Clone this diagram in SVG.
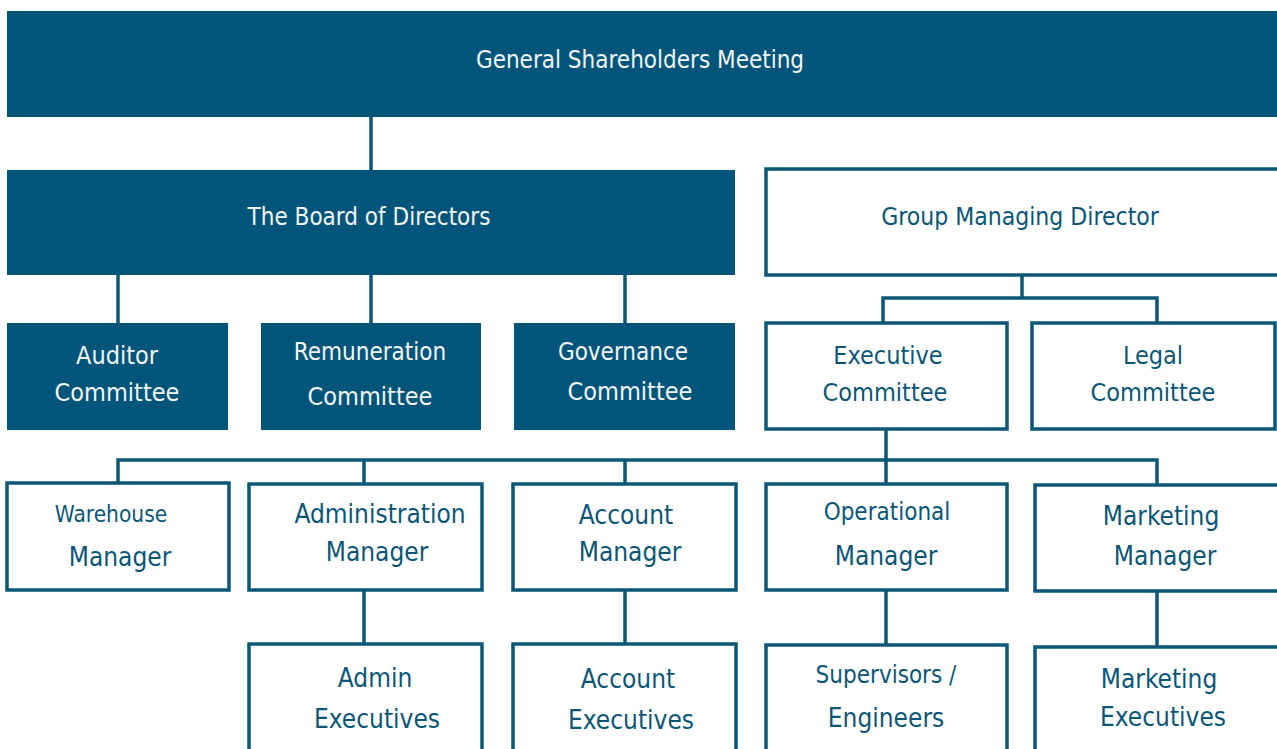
<svg xmlns="http://www.w3.org/2000/svg" width="1277" height="749" viewBox="0 0 1277 749">
<style>
.dk{fill:#02557a;stroke:none}
.wt{fill:#ffffff;stroke:#0a5777;stroke-width:3.5}
.conn line,.conn path{stroke:#0a5777;stroke-width:3.5;fill:none}
text{font-family:"DejaVu Sans Condensed","DejaVu Sans","Liberation Sans",sans-serif;font-stretch:condensed;font-size:24px;text-anchor:middle}
.m{font-size:25px}
.l{font-size:26px}
.lt{fill:#f2f6f8}
.dt{fill:#0b5677}
</style>
<rect width="1277" height="749" fill="#ffffff"/>
<g class="conn" id="connectors">
<line x1="371" y1="117" x2="371" y2="170"/>
<line x1="118" y1="275" x2="118" y2="323"/>
<line x1="371" y1="275" x2="371" y2="323"/>
<line x1="625" y1="275" x2="625" y2="323"/>
<path d="M1022 276 V298 M883 323 V298 H1157 V323"/>
<path d="M886 429 V460 M118 483 V460 H1157 V485 M364 460 V484 M625 460 V484 M886 460 V484"/>
<line x1="364" y1="590" x2="364" y2="644"/>
<line x1="625" y1="590" x2="625" y2="644"/>
<line x1="886" y1="590" x2="886" y2="645"/>
<line x1="1157" y1="591" x2="1157" y2="647"/>
</g>
<g id="gsm"><rect class="dk" x="7" y="11" width="1270" height="106"/><text class="lt" x="640" y="68">General Shareholders Meeting</text></g>
<g id="board"><rect class="dk" x="7" y="170" width="728" height="105"/><text class="lt" x="369" y="225">The Board of Directors</text></g>
<g id="gmd"><rect class="wt" x="766" y="169" width="513" height="106"/><text class="dt" x="1020" y="225" style="font-size:24.5px">Group Managing Director</text></g>
<g id="auditor"><rect class="dk" x="7" y="323" width="221" height="107"/><text class="lt m" x="117" y="364">Auditor</text><text class="lt m" x="117" y="401">Committee</text></g>
<g id="remuneration"><rect class="dk" x="261" y="323" width="220" height="107"/><text class="lt" x="370" y="360">Remuneration</text><text class="lt m" x="370" y="405">Committee</text></g>
<g id="governance"><rect class="dk" x="514" y="323" width="221" height="107"/><text class="lt" x="623" y="360">Governance</text><text class="lt m" x="630" y="400">Committee</text></g>
<g id="executive"><rect class="wt" x="766" y="323" width="241" height="106"/><text class="dt m" x="888" y="364">Executive</text><text class="dt m" x="885" y="401">Committee</text></g>
<g id="legal"><rect class="wt" x="1032" y="323" width="243" height="106"/><text class="dt m" x="1153" y="364">Legal</text><text class="dt m" x="1153" y="401">Committee</text></g>
<g id="warehouse"><rect class="wt" x="7" y="483" width="222" height="107"/><text class="dt" x="111" y="522" style="font-size:22.5px">Warehouse</text><text class="dt l" x="120" y="566">Manager</text></g>
<g id="administration"><rect class="wt" x="249" y="484" width="233" height="106"/><text class="dt l" x="380" y="523">Administration</text><text class="dt l" x="377" y="561">Manager</text></g>
<g id="account"><rect class="wt" x="513" y="484" width="223" height="106"/><text class="dt l" x="626" y="524">Account</text><text class="dt l" x="630" y="561">Manager</text></g>
<g id="operational"><rect class="wt" x="766" y="484" width="241" height="106"/><text class="dt" x="887" y="520">Operational</text><text class="dt l" x="886" y="565">Manager</text></g>
<g id="marketing"><rect class="wt" x="1035" y="485" width="244" height="106"/><text class="dt l" x="1161" y="525">Marketing</text><text class="dt l" x="1165" y="565">Manager</text></g>
<g id="admin-exec"><rect class="wt" x="249" y="644" width="233" height="110"/><text class="dt l" x="375" y="687">Admin</text><text class="dt l" x="377" y="728">Executives</text></g>
<g id="account-exec"><rect class="wt" x="513" y="644" width="223" height="110"/><text class="dt l" x="628" y="688">Account</text><text class="dt l" x="631" y="729">Executives</text></g>
<g id="supervisors"><rect class="wt" x="766" y="645" width="241" height="110"/><text class="dt" x="886" y="683">Supervisors /</text><text class="dt l" x="886" y="727">Engineers</text></g>
<g id="marketing-exec"><rect class="wt" x="1035" y="647" width="244" height="110"/><text class="dt l" x="1159" y="688">Marketing</text><text class="dt l" x="1163" y="726">Executives</text></g>
</svg>
